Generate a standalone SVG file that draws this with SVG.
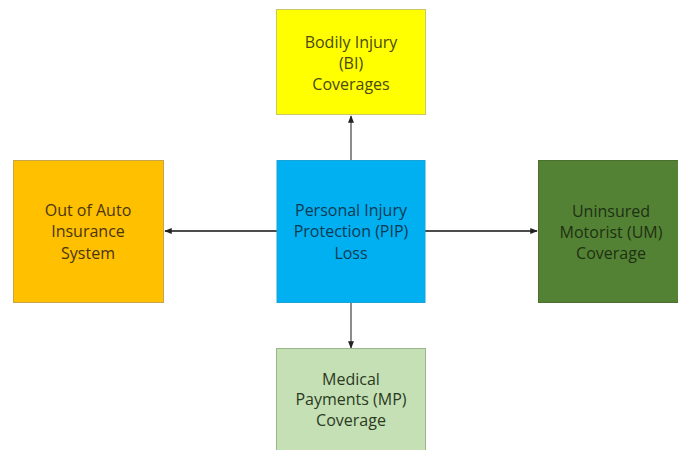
<svg xmlns="http://www.w3.org/2000/svg" width="678" height="450" viewBox="0 0 678 450">
<defs>
<marker id="ah" viewBox="0 0 10 10" refX="9" refY="5" markerWidth="5" markerHeight="5" orient="auto-start-reverse">
<path d="M0,1 L10,5 L0,9 z" fill="#222"/>
</marker>
<style>
.box{stroke-width:1}
.t{font-family:"Open Sans","Liberation Sans",sans-serif;font-size:16px;text-anchor:middle}
.c{fill:none;stroke-width:1.5;marker-end:url(#ah)}
</style>
</defs>
<rect width="678" height="450" fill="#fff"/>
<g id="connectors">
<line class="c" x1="351" y1="160" x2="351" y2="116" stroke="#666"/>
<line class="c" x1="351" y1="303" x2="351" y2="348" stroke="#666"/>
<line class="c" x1="277" y1="231" x2="165" y2="231" stroke="#111"/>
<line class="c" x1="425" y1="231" x2="537" y2="231" stroke="#111"/>
</g>
<g id="bi">
<rect class="box" x="276.5" y="9.5" width="149" height="105" fill="#FFFF00" stroke="#c8c86a"/>
<text class="t" fill="#4a4a10" x="351" y="48">Bodily Injury</text>
<text class="t" fill="#4a4a10" x="351" y="69">(BI)</text>
<text class="t" fill="#4a4a10" x="351" y="90">Coverages</text>
</g>
<g id="outauto">
<rect class="box" x="13.5" y="160.5" width="150" height="142" fill="#FFC000" stroke="#c9a54a"/>
<text class="t" fill="#4a3510" x="88" y="216">Out of Auto</text>
<text class="t" fill="#4a3510" x="88" y="237">Insurance</text>
<text class="t" fill="#4a3510" x="88" y="259">System</text>
</g>
<g id="pip">
<rect class="box" x="277" y="160.5" width="148" height="142" fill="#00B0F0" stroke="#1aa3d8"/>
<text class="t" fill="#0e3a55" x="351" y="216">Personal Injury</text>
<text class="t" fill="#0e3a55" x="351" y="237">Protection (PIP)</text>
<text class="t" fill="#0e3a55" x="351" y="259">Loss</text>
</g>
<g id="um">
<rect class="box" x="538.5" y="160.5" width="140" height="142" fill="#548235" stroke="#4a7030"/>
<text class="t" fill="#1e3012" x="611" y="217">Uninsured</text>
<text class="t" fill="#1e3012" x="611" y="238">Motorist (UM)</text>
<text class="t" fill="#1e3012" x="611" y="259">Coverage</text>
</g>
<g id="mp">
<rect class="box" x="276.5" y="348.5" width="149" height="105" fill="#C5E0B4" stroke="#9cb68c"/>
<text class="t" fill="#2a3a22" x="351" y="385">Medical</text>
<text class="t" fill="#2a3a22" x="351" y="405">Payments (MP)</text>
<text class="t" fill="#2a3a22" x="351" y="426">Coverage</text>
</g>
</svg>
